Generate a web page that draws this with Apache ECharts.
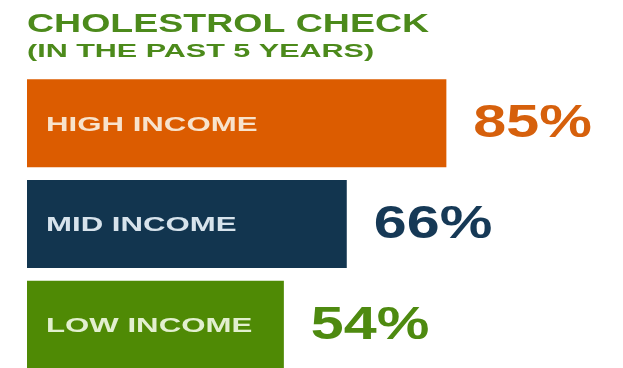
<!DOCTYPE html>
<html>
<head>
<meta charset="utf-8">
<script src="https://cdn.jsdelivr.net/npm/echarts@6/dist/echarts.min.js"></script>
<style>
  html, body { margin: 0; padding: 0; background: #ffffff; }
  #chart { width: 623px; height: 368px; }
</style>
</head>
<body>
<div id="chart"></div>
<script>
// Cholesterol check rates by income group
const categories = ['HIGH INCOME', 'MID INCOME', 'LOW INCOME'];
const values = [85, 66, 54];
const titleLines = ['CHOLESTROL CHECK', '(IN THE PAST 5 YEARS)'];

// palette
const barColors = ['#dc5c00', '#12354f', '#4f8a05'];
const valueColors = ['#d6600c', '#163956', '#4e8a10'];
const nameColors = ['#f8e3cc', '#d7e3ec', '#e2efcf'];
const titleColor = '#4c8a1b';
const FONT = '"Liberation Sans", Arial, sans-serif';

const X_MIN = 5;

const chart = echarts.init(document.getElementById('chart'), null, { renderer: 'canvas' });

chart.setOption({
  backgroundColor: '#ffffff',
  animation: false,
  grid: { left: 27, right: 98, top: 73, height: 302, outerBoundsMode: 'none' },
  xAxis: { type: 'value', min: X_MIN, max: 100, show: false },
  yAxis: { type: 'category', data: categories, inverse: true, show: false },
  graphic: [
    {
      type: 'text', x: 27, y: 25, scaleX: 1.5,
      style: { text: titleLines[0], font: 'bold 25px ' + FONT, fill: titleColor,
               textAlign: 'left', textVerticalAlign: 'middle' }
    },
    {
      type: 'text', x: 27, y: 52, scaleX: 1.65,
      style: { text: titleLines[1], font: 'bold 18.5px ' + FONT, fill: titleColor,
               textAlign: 'left', textVerticalAlign: 'middle' }
    }
  ],
  series: [
    {
      type: 'bar',
      data: values,
      barWidth: 88,
      z: 2,
      itemStyle: { color: p => barColors[p.dataIndex] },
      silent: true
    },
    {
      // category names inside the bars and percentages after them
      type: 'custom',
      clip: false,
      silent: true,
      z: 10,
      data: values.map((v, i) => [v, i]),
      encode: { x: 0, y: 1 },
      renderItem: function (params, api) {
        const v = api.value(0);
        const i = params.dataIndex;
        const end = api.coord([v, i]);
        const start = api.coord([X_MIN, i]);
        return {
          type: 'group',
          children: [
            {
              type: 'text', x: start[0] + 19, y: end[1] + 2, scaleX: 1.6,
              style: { text: categories[i], font: 'bold 19.5px ' + FONT, fill: nameColors[i],
                       textAlign: 'left', textVerticalAlign: 'middle' }
            },
            {
              type: 'text', x: end[0] + 27, y: end[1] + 1, scaleX: 1.26,
              style: { text: v + '%', font: 'bold 47px ' + FONT, fill: valueColors[i],
                       textAlign: 'left', textVerticalAlign: 'middle' }
            }
          ]
        };
      }
    }
  ]
});
</script>
</body>
</html>
